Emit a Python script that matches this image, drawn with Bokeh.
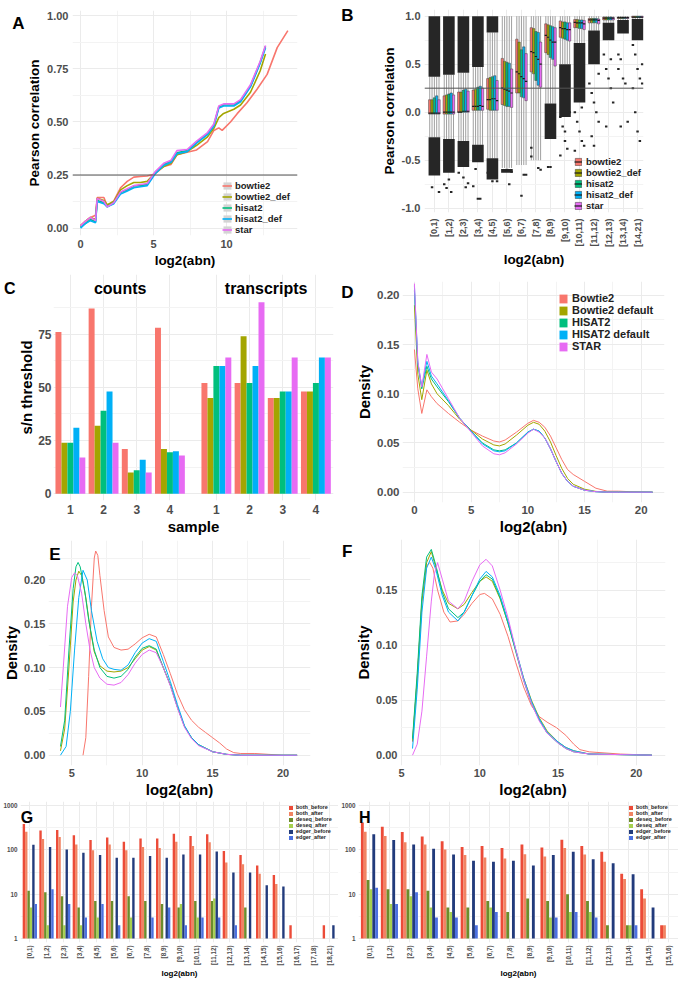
from bokeh.plotting import figure
from bokeh.layouts import column, row
from bokeh.models import (Range1d, FixedTicker, Label, Legend, LegendItem, Span, LinearAxis,
                          NumeralTickFormatter)
from bokeh.embed import file_html
from bokeh.resources import INLINE

FONT = "Liberation Sans"
HUE5 = ["#F8766D", "#A3A500", "#00BF7D", "#00B0F6", "#E76BF3"]

# ---------------- Panel A data ----------------
A_names = ["bowtie2", "bowtie2_def", "hisat2", "hisat2_def", "star"]
A_x_bowtie2 = [0, 0.3, 0.68, 1.03, 1.14, 1.6, 1.83, 2.28, 2.74, 3.2, 3.65, 4.1, 4.57, 5.1, 5.7,
               6.2, 6.6, 7.3, 7.95, 8.7, 9.13, 9.47, 9.7, 10.27, 10.73, 11.4, 12.1, 12.78, 13.47, 14.2]
A_y_bowtie2 = [0.012, 0.03, 0.05, 0.06, 0.144, 0.144, 0.105, 0.128, 0.19, 0.22, 0.24, 0.243, 0.245,
               0.255, 0.29, 0.30, 0.345, 0.357, 0.368, 0.407, 0.46, 0.472, 0.46, 0.5, 0.539, 0.59,
               0.655, 0.724, 0.85, 0.93]
A_x_other = [0, 0.3, 0.68, 1.03, 1.14, 1.6, 1.83, 2.28, 2.74, 3.2, 3.65, 4.1, 4.57, 5.1, 5.7, 6.2,
             6.6, 7.3, 7.95, 8.7, 9.13, 9.47, 9.8, 10.5, 10.96, 11.64, 12.3, 12.67]
A_y_bowtie2_def = [0.01, 0.03, 0.05, 0.04, 0.14, 0.13, 0.11, 0.125, 0.18, 0.20, 0.215, 0.215, 0.22,
                   0.26, 0.29, 0.305, 0.345, 0.36, 0.39, 0.43, 0.47, 0.52, 0.54, 0.56, 0.58, 0.64,
                   0.74, 0.82]
A_y_hisat2 = [0.005, 0.02, 0.04, 0.03, 0.13, 0.12, 0.10, 0.12, 0.167, 0.18, 0.198, 0.2, 0.206, 0.26,
              0.30, 0.315, 0.355, 0.365, 0.405, 0.445, 0.485, 0.57, 0.58, 0.58, 0.60, 0.67, 0.78, 0.856]
A_y_hisat2_def = [0.0, 0.02, 0.035, 0.025, 0.125, 0.115, 0.1, 0.115, 0.16, 0.175, 0.19, 0.195, 0.2,
                  0.255, 0.295, 0.31, 0.35, 0.36, 0.4, 0.44, 0.48, 0.565, 0.575, 0.575, 0.595, 0.665,
                  0.775, 0.85]
A_y_star = [0.01, 0.03, 0.05, 0.035, 0.14, 0.125, 0.1, 0.12, 0.17, 0.185, 0.2, 0.205, 0.21, 0.265,
            0.305, 0.32, 0.365, 0.37, 0.41, 0.45, 0.49, 0.575, 0.585, 0.585, 0.605, 0.675, 0.785, 0.86]
A_threshold = 0.25

# ---------------- Panel B data ----------------
B_cats = ["[0,1)", "[1,2)", "[2,3)", "[3,4)", "[4,5)", "[5,6)", "[6,7)", "[7,8)", "[8,9)",
          "[9,10)", "[10,11)", "[11,12)", "[12,13)", "[13,14)", "[14,21)"]
B_q1 = {
    "bowtie2":     [-0.02, -0.02, 0.00, 0.02, 0.03, 0.08, 0.20, 0.42, 0.62, 0.78, 0.88, 0.93, 0.96, 0.975, 0.985],
    "bowtie2_def": [-0.02, -0.02, 0.00, 0.02, 0.02, 0.07, 0.20, 0.40, 0.60, 0.77, 0.88, 0.93, 0.96, 0.975, 0.985],
    "hisat2":      [-0.02, -0.02, 0.00, 0.02, 0.02, 0.06, 0.16, 0.33, 0.57, 0.76, 0.87, 0.93, 0.96, 0.975, 0.985],
    "hisat2_def":  [-0.02, -0.02, 0.00, 0.02, 0.02, 0.06, 0.15, 0.28, 0.55, 0.75, 0.87, 0.93, 0.96, 0.975, 0.985],
    "star":        [-0.02, -0.02, 0.00, 0.02, 0.02, 0.05, 0.12, 0.26, 0.48, 0.74, 0.86, 0.92, 0.96, 0.975, 0.985],
}
B_med = {
    "bowtie2":     [-0.01, 0.00, 0.00, 0.06, 0.13, 0.25, 0.42, 0.63, 0.80, 0.88, 0.935, 0.96, 0.98, 0.985, 0.99],
    "bowtie2_def": [-0.01, 0.00, 0.00, 0.06, 0.13, 0.24, 0.40, 0.62, 0.78, 0.87, 0.93, 0.96, 0.98, 0.985, 0.99],
    "hisat2":      [-0.01, 0.00, 0.01, 0.06, 0.14, 0.23, 0.37, 0.58, 0.75, 0.87, 0.93, 0.96, 0.98, 0.985, 0.99],
    "hisat2_def":  [-0.01, 0.00, 0.01, 0.07, 0.14, 0.22, 0.35, 0.55, 0.73, 0.86, 0.93, 0.96, 0.98, 0.985, 0.99],
    "star":        [-0.01, 0.00, 0.01, 0.06, 0.12, 0.20, 0.32, 0.50, 0.73, 0.86, 0.92, 0.955, 0.98, 0.985, 0.99],
}
B_q3 = {
    "bowtie2":     [0.13, 0.17, 0.21, 0.23, 0.35, 0.56, 0.76, 0.88, 0.92, 0.95, 0.965, 0.975, 0.99, 0.99, 1.0],
    "bowtie2_def": [0.13, 0.18, 0.21, 0.24, 0.36, 0.53, 0.73, 0.87, 0.91, 0.94, 0.965, 0.975, 0.99, 0.99, 1.0],
    "hisat2":      [0.15, 0.19, 0.23, 0.26, 0.37, 0.52, 0.65, 0.84, 0.90, 0.94, 0.96, 0.975, 0.99, 0.99, 1.0],
    "hisat2_def":  [0.17, 0.20, 0.24, 0.27, 0.38, 0.51, 0.68, 0.83, 0.89, 0.93, 0.96, 0.975, 0.99, 0.99, 1.0],
    "star":        [0.13, 0.18, 0.22, 0.25, 0.33, 0.45, 0.61, 0.73, 0.88, 0.93, 0.955, 0.97, 0.985, 0.99, 1.0],
}
B_whisk_hi = [0.37, 0.39, 0.41, 0.47, 0.83, 1.0, 1.0, 1.0, 1.0, 1.0, 1.0, 1.0, 1.0, 1.0, 1.0]
B_whisk_lo = [-0.26, -0.28, -0.30, -0.34, -0.48, -0.58, -0.55, -0.50, 0.09, 0.50, 0.72, 0.85, 0.93, 0.96, 0.97]
B_band_cat = [0, 1, 2, 3, 4, 0, 1, 2, 3, 4, 5, 8, 9, 10, 11, 12, 13, 14]
B_band_lo = [0.37, 0.39, 0.41, 0.47, 0.83, -0.66, -0.63, -0.57, -0.52, -0.70, -0.63, -0.28, -0.05, 0.10, 0.50, 0.75, 0.82, 0.75]
B_band_hi = [1.00, 1.00, 1.00, 1.00, 1.00, -0.26, -0.28, -0.30, -0.34, -0.48, -0.59, 0.09, 0.50, 0.72, 0.85, 0.93, 0.96, 0.97]
B_out_cat = [0, 0, 1, 1, 1, 1, 2, 2, 2, 2, 3, 3, 3, 3, 4, 4, 4, 5, 5, 5, 6, 6, 6, 7, 7, 7, 7, 8, 8,
             9, 9, 9, 9, 9, 9, 9, 10, 10, 10, 10, 10, 10, 10, 11, 11, 11, 11, 11, 11, 11, 11,
             12, 12, 12, 12, 12, 12, 12, 13, 13, 13, 13, 13, 13, 13, 14, 14, 14, 14, 14, 14, 14, 14, 14, 14]
B_out_ser = [1, 4, 0, 1, 3, 2, 0, 2, 3, 4, 1, 0, 2, 3, 0, 2, 4, 2, 3, 4, 3, 4, 2, 0, 0, 3, 4, 1, 2,
             0, 1, 2, 0, 3, 4, 2, 0, 1, 2, 3, 4, 0, 3, 0, 1, 2, 3, 4, 1, 2, 4,
             0, 1, 2, 3, 4, 1, 3, 0, 1, 2, 3, 1, 4, 0, 0, 1, 2, 3, 4, 0, 1, 2, 3, 4]
B_out_y = [-0.78, -0.83, -0.75, -0.79, -0.83, -0.70, -0.63, -0.68, -0.78, -0.74, -0.59, -0.77, -0.90, -0.90,
           -0.63, -0.72, -0.72, -0.60, -0.75, -0.62, -0.65, -0.65, -0.87, -0.37, -0.46, -0.58, -0.60, -0.57, -0.57,
           -0.05, -0.15, -0.30, -0.45, -0.38, 0.00, -0.20, 0.00, -0.10, -0.20, -0.30, -0.35, -0.40, 0.05,
           0.30, 0.20, 0.10, 0.00, -0.10, -0.25, -0.35, 0.40, 0.60, 0.45, 0.35, 0.25, 0.10, -0.15, 0.55,
           0.60, 0.55, 0.35, 0.30, -0.15, -0.10, 0.45, 0.70, 0.60, 0.45, 0.35, 0.30, 0.25, 0.00, -0.20, -0.30, 0.50]

# ---------------- Panel C data ----------------
C_samples = [1, 2, 3, 4]
C_counts = {
    "Bowtie2": [76, 87, 21, 78], "Bowtie2 default": [24, 32, 10, 21], "HISAT2": [24, 39, 11, 19.5],
    "HISAT2 default": [31, 48, 16, 20], "STAR": [17, 24, 10, 18],
}
C_transcripts = {
    "Bowtie2": [52, 52, 45, 48], "Bowtie2 default": [45, 74, 45, 48], "HISAT2": [60, 52, 48, 52],
    "HISAT2 default": [60, 60, 48, 64], "STAR": [64, 90, 64, 64],
}
D_names = ["Bowtie2", "Bowtie2 default", "HISAT2", "HISAT2 default", "STAR"]

# ---------------- Panel D data ----------------
D_x = [0, 0.3, 0.65, 1.1, 1.5, 2, 3, 4, 5, 6, 7, 7.5, 8, 9, 10, 10.5, 11, 11.5, 12, 12.5, 13, 13.5,
       14, 15, 16, 17, 18, 19, 21]
D_y = {
    "Bowtie2": [0.145, 0.105, 0.08, 0.104, 0.097, 0.09, 0.08, 0.071, 0.063, 0.057, 0.052, 0.051, 0.053,
                0.061, 0.07, 0.073, 0.071, 0.066, 0.057, 0.045, 0.033, 0.023, 0.018, 0.011, 0.004, 0.001,
                0.001, 0.0005, 0.0],
    "Bowtie2 default": [0.19, 0.12, 0.094, 0.124, 0.11, 0.1, 0.088, 0.074, 0.063, 0.054, 0.048, 0.047,
                        0.049, 0.058, 0.068, 0.071, 0.069, 0.062, 0.051, 0.037, 0.024, 0.014, 0.008, 0.003,
                        0.0008, 0.0, 0.0, 0.0, 0.0],
    "HISAT2": [0.205, 0.13, 0.105, 0.128, 0.115, 0.107, 0.092, 0.075, 0.062, 0.05, 0.043, 0.042, 0.043,
               0.05, 0.061, 0.064, 0.062, 0.055, 0.044, 0.031, 0.019, 0.011, 0.006, 0.002, 0.0005, 0.0,
               0.0, 0.0, 0.0],
    "HISAT2 default": [0.21, 0.132, 0.107, 0.133, 0.118, 0.11, 0.093, 0.075, 0.062, 0.049, 0.042, 0.041,
                       0.042, 0.05, 0.061, 0.064, 0.062, 0.055, 0.044, 0.031, 0.019, 0.011, 0.006, 0.002,
                       0.0005, 0.0, 0.0, 0.0, 0.0],
    "STAR": [0.212, 0.133, 0.107, 0.14, 0.122, 0.115, 0.095, 0.075, 0.061, 0.047, 0.039, 0.038, 0.04,
             0.049, 0.06, 0.064, 0.061, 0.055, 0.044, 0.031, 0.019, 0.011, 0.006, 0.002, 0.0005, 0.0,
             0.0, 0.0, 0.0],
}

# ---------------- Panel E data ----------------
E_x = {
    "Bowtie2": [5.8, 6.0, 6.2, 6.4, 6.6, 6.7, 6.85, 7.0, 7.3, 7.6, 8.0, 8.5, 9.0, 9.5, 10.0, 10.5, 11.0,
                11.5, 12.0, 12.5, 13.0, 13.5, 14.0, 14.5, 15.0, 15.5, 16.0, 16.5, 17.0, 18.0, 19.0, 20.0, 21.0],
    "Bowtie2 default": [4.2, 4.5, 4.8, 5.1, 5.3, 5.5, 5.7, 6.0, 6.3, 6.6, 7.0, 7.5, 8.0, 8.5, 9.0, 9.5,
                        10.0, 10.5, 11.0, 11.5, 12.0, 12.5, 13.0, 13.5, 14.0, 15.0, 16.0, 17.0, 21.0],
    "HISAT2": [4.2, 4.5, 4.8, 5.1, 5.3, 5.45, 5.6, 5.9, 6.2, 6.6, 7.0, 7.5, 8.0, 8.5, 9.0, 9.5, 10.0,
               10.5, 11.0, 11.5, 12.0, 12.5, 13.0, 13.5, 14.0, 15.0, 16.0, 17.0, 21.0],
    "HISAT2 default": [4.2, 4.6, 4.9, 5.2, 5.5, 5.8, 6.1, 6.4, 6.8, 7.2, 7.6, 8.0, 8.5, 9.0, 9.5, 10.0,
                       10.5, 11.0, 11.5, 12.0, 12.5, 13.0, 13.5, 14.0, 15.0, 16.0, 17.0, 21.0],
    "STAR": [4.2, 4.4, 4.7, 5.0, 5.2, 5.4, 5.7, 6.0, 6.3, 6.6, 7.0, 7.5, 8.0, 8.5, 9.0, 9.5, 10.0, 10.5,
             11.0, 11.5, 12.0, 12.5, 13.0, 13.5, 14.0, 15.0, 16.0, 17.0, 21.0],
}
E_y = {
    "Bowtie2": [0.0, 0.02, 0.09, 0.17, 0.225, 0.233, 0.228, 0.205, 0.165, 0.135, 0.123, 0.12, 0.121,
                0.127, 0.134, 0.138, 0.135, 0.115, 0.093, 0.07, 0.052, 0.04, 0.032, 0.026, 0.02, 0.014,
                0.007, 0.003, 0.002, 0.002, 0.001, 0.0, 0.0],
    "Bowtie2 default": [0.005, 0.03, 0.1, 0.175, 0.2, 0.21, 0.205, 0.18, 0.145, 0.118, 0.102, 0.096, 0.095,
                        0.096, 0.1, 0.11, 0.12, 0.124, 0.12, 0.1, 0.08, 0.055, 0.033, 0.02, 0.012, 0.004,
                        0.001, 0.0, 0.0],
    "HISAT2": [0.01, 0.04, 0.12, 0.19, 0.215, 0.22, 0.215, 0.19, 0.155, 0.12, 0.1, 0.09, 0.088, 0.09,
               0.098, 0.112, 0.122, 0.125, 0.121, 0.1, 0.08, 0.055, 0.033, 0.02, 0.012, 0.004, 0.001, 0.0, 0.0],
    "HISAT2 default": [0.0, 0.01, 0.05, 0.12, 0.18, 0.211, 0.2, 0.165, 0.13, 0.11, 0.1, 0.098, 0.097,
                       0.103, 0.117, 0.128, 0.133, 0.13, 0.107, 0.084, 0.058, 0.034, 0.02, 0.012, 0.004,
                       0.001, 0.0, 0.0],
    "STAR": [0.055, 0.1, 0.17, 0.203, 0.208, 0.205, 0.185, 0.15, 0.12, 0.1, 0.088, 0.081, 0.08, 0.083,
             0.092, 0.105, 0.115, 0.12, 0.117, 0.1, 0.079, 0.054, 0.032, 0.019, 0.011, 0.004, 0.001, 0.0, 0.0],
}

# ---------------- Panel F data ----------------
F_x = {
    "Bowtie2": [5.7, 6.0, 6.3, 6.6, 6.8, 7.0, 7.3, 7.7, 8.1, 8.6, 9.0, 9.5, 10.0, 10.3, 10.8, 11.3, 11.8,
                12.3, 12.8, 13.3, 13.8, 14.3, 14.9, 15.5, 16.0, 16.4, 17.0, 18.0, 19.0, 21.0],
    "Bowtie2 default": [5.7, 6.0, 6.3, 6.6, 6.9, 7.2, 7.6, 8.0, 8.6, 9.0, 9.5, 10.0, 10.4, 10.8, 11.3,
                        11.8, 12.3, 12.8, 13.3, 13.8, 14.3, 15.0, 15.5, 16.0, 17.0, 21.0],
    "HISAT2": [5.7, 6.0, 6.3, 6.6, 6.9, 7.2, 7.6, 8.0, 8.6, 9.0, 9.5, 10.0, 10.4, 10.8, 11.3, 11.8, 12.3,
               12.8, 13.3, 13.8, 14.3, 15.0, 15.5, 16.0, 17.0, 21.0],
    "HISAT2 default": [5.7, 6.0, 6.3, 6.6, 6.9, 7.2, 7.6, 8.0, 8.6, 9.0, 9.5, 10.0, 10.4, 10.8, 11.3,
                       11.8, 12.3, 12.8, 13.3, 13.8, 14.3, 15.0, 15.5, 16.0, 17.0, 21.0],
    "STAR": [5.7, 6.0, 6.3, 6.6, 6.9, 7.1, 7.3, 7.6, 8.0, 8.6, 9.0, 9.5, 10.0, 10.4, 10.8, 11.3, 11.8,
             12.3, 12.8, 13.3, 13.8, 14.3, 15.0, 15.5, 16.0, 17.0, 21.0],
}
F_y = {
    "Bowtie2": [0.012, 0.07, 0.14, 0.172, 0.175, 0.17, 0.15, 0.13, 0.121, 0.122, 0.128, 0.138, 0.146,
                0.147, 0.142, 0.128, 0.108, 0.084, 0.062, 0.045, 0.035, 0.03, 0.025, 0.018, 0.01, 0.005,
                0.003, 0.002, 0.001, 0.0],
    "Bowtie2 default": [0.013, 0.07, 0.14, 0.175, 0.185, 0.17, 0.15, 0.138, 0.133, 0.137, 0.148, 0.158,
                        0.162, 0.158, 0.142, 0.12, 0.095, 0.07, 0.05, 0.034, 0.022, 0.012, 0.007, 0.004,
                        0.001, 0.0],
    "HISAT2": [0.015, 0.075, 0.145, 0.18, 0.187, 0.172, 0.148, 0.133, 0.125, 0.13, 0.145, 0.158, 0.164,
               0.16, 0.143, 0.12, 0.094, 0.068, 0.047, 0.032, 0.02, 0.011, 0.006, 0.003, 0.001, 0.0],
    "HISAT2 default": [0.006, 0.06, 0.13, 0.17, 0.18, 0.168, 0.145, 0.13, 0.122, 0.13, 0.145, 0.16,
                       0.167, 0.162, 0.145, 0.122, 0.096, 0.07, 0.049, 0.033, 0.021, 0.012, 0.007, 0.004,
                       0.001, 0.0],
    "STAR": [0.0, 0.01, 0.04, 0.09, 0.14, 0.165, 0.175, 0.16, 0.14, 0.133, 0.14, 0.158, 0.173, 0.178,
             0.172, 0.15, 0.125, 0.096, 0.068, 0.047, 0.031, 0.02, 0.011, 0.006, 0.003, 0.001, 0.0],
}

# ---------------- Panel G / H data ----------------
GH_names = ["both_before", "both_after", "deseq_before", "deseq_after", "edger_before", "edger_after"]
GH_colors = ["#EC4B38", "#F18463", "#6C8C2B", "#A6D04E", "#223B7C", "#4B70E0"]
G_cats = ["[0,1)", "[1,2)", "[2,3)", "[3,4)", "[4,5)", "[5,6)", "[6,7)", "[7,8)", "[8,9)", "[9,10)",
          "[10,11)", "[11,12)", "[12,13)", "[13,14)", "[14,15)", "[15,16)", "[16,17)", "[17,18)", "[18,21)"]
G_vals = {
    "both_before":  [380, 273, 280, 213, 166, 189, 152, 180, 180, 231, 205, 224, 94, 76, 44, 27, 2, 0, 2],
    "both_after":   [255, 174, 195, 131, 97, 131, 97, 115, 110, 152, 121, 147, 52, 47, 29, 17, 0, 0, 0],
    "deseq_before": [12, 11, 9, 5, 7, 7, 9, 7, 6, 5, 7, 7, 0, 5, 0, 0, 0, 0, 0],
    "deseq_after":  [5, 2, 2, 2, 3, 0, 3, 0, 0, 6, 3, 8, 0, 0, 0, 0, 0, 0, 0],
    "edger_before": [129, 115, 102, 86, 76, 66, 66, 72, 66, 78, 78, 92, 31, 31, 16, 15, 0, 0, 2],
    "edger_after":  [6, 13, 6, 3, 6, 2, 0, 3, 5, 2, 3, 3, 2, 0, 0, 0, 0, 0, 0],
}
H_cats = ["[0,1)", "[1,2)", "[2,3)", "[3,4)", "[4,5)", "[5,6)", "[6,7)", "[7,8)", "[8,9)", "[9,10)",
          "[10,11)", "[11,12)", "[12,13)", "[13,14)", "[14,15)", "[15,16)"]
H_vals = {
    "both_before":  [413, 328, 250, 199, 155, 115, 121, 110, 131, 113, 168, 121, 90, 29, 13, 2],
    "both_after":   [255, 205, 147, 131, 102, 76, 67, 64, 79, 71, 110, 78, 54, 22, 8, 2],
    "deseq_before": [21, 13, 13, 12, 5, 5, 7, 4, 8, 7, 10, 7, 2, 2, 0, 0],
    "deseq_after":  [13, 6, 9, 5, 4, 0, 5, 0, 0, 3, 4, 4, 0, 2, 0, 0],
    "edger_before": [224, 166, 131, 106, 78, 57, 54, 57, 44, 76, 90, 61, 50, 28, 5, 0],
    "edger_after":  [14, 6, 11, 3, 3, 2, 4, 0, 0, 3, 4, 3, 0, 2, 0, 0],
}


# ---------------- helpers ----------------
def mkfig(w, h, xr, yr, bl, br, bt, bb, **kw):
    p = figure(width=w, height=h, x_range=Range1d(*xr), y_range=Range1d(*yr),
               min_border_left=bl, min_border_right=br, min_border_top=bt, min_border_bottom=bb,
               output_backend="svg", toolbar_location=None, **kw)
    p.outline_line_color = None
    p.border_fill_color = "white"
    p.background_fill_color = "white"
    if "frame_align" in p.properties():
        p.frame_align = False
    return p


def no_ticks(ax):
    ax.axis_line_color = None
    ax.major_tick_line_color = None
    ax.minor_tick_line_color = None
    ax.major_tick_out = 0
    ax.major_tick_in = 0
    ax.minor_tick_out = 0
    ax.minor_tick_in = 0


def style(p, tick_fs="11px", lab_fs="15px", tstand=3, lstand=2):
    for ax in list(p.xaxis) + list(p.yaxis):
        no_ticks(ax)
        ax.major_label_text_font = FONT
        ax.major_label_text_font_style = "bold"
        ax.major_label_text_color = "#4D4D4D"
        ax.major_label_text_font_size = tick_fs
        ax.major_label_standoff = tstand
        ax.axis_label_text_font = FONT
        ax.axis_label_text_font_style = "bold"
        ax.axis_label_text_font_size = lab_fs
        ax.axis_label_text_color = "black"
        ax.axis_label_standoff = lstand
    for g in list(p.xgrid) + list(p.ygrid):
        g.grid_line_color = "#EBEBEB"
        g.minor_grid_line_color = "#F3F3F3"


def set_ticks(p, axis, major, minor=()):
    t = FixedTicker(ticks=list(major), minor_ticks=list(minor))
    axes = p.xaxis if axis == "x" else p.yaxis
    grids = p.xgrid if axis == "x" else p.ygrid
    for a in axes:
        a.ticker = t
    for g in grids:
        g.ticker = t


def letter_axis(p, txt, y, standoff, size="17px"):
    """panel tag drawn as the single tick label of an extra, line-less left axis"""
    ax = LinearAxis(ticker=FixedTicker(ticks=[y]), major_label_overrides={y: txt},
                    major_label_text_font=FONT, major_label_text_font_style="bold",
                    major_label_text_font_size=size, major_label_text_color="black",
                    major_label_standoff=standoff)
    no_ticks(ax)
    p.add_layout(ax, "left")


def letter_in(p, txt, x, y, size="17px"):
    p.add_layout(Label(x=x, y=y, text=txt, text_font=FONT, text_font_style="bold",
                       text_font_size=size, text_color="black", text_baseline="alphabetic"))


def legend(p, items, loc, fs, gw, gh, standoff=4, lh=None):
    lg = Legend(items=items, location=loc, orientation="vertical", padding=0, margin=0, spacing=0,
                glyph_width=gw, glyph_height=gh, label_height=lh or gh, label_standoff=standoff,
                label_text_font=FONT, label_text_font_style="bold", label_text_font_size=fs,
                label_text_color="#222222", label_text_line_height=0.9,
                inactive_fill_alpha=0, background_fill_alpha=0, border_line_color=None)
    p.add_layout(lg)


# ---------------- Panel A ----------------
pA = mkfig(338, 270, (-0.55, 14.86), (-0.035, 1.025), 72, 41, 10, 32)
style(pA, "11px", "13.5px", 4, 2)
set_ticks(pA, "x", [0, 5, 10], [2.5, 7.5, 12.5])
set_ticks(pA, "y", [0, 0.25, 0.5, 0.75, 1.0], [0.125, 0.375, 0.625, 0.875])
pA.yaxis.formatter = NumeralTickFormatter(format="0.00")
pA.xaxis.axis_label = "log2(abn)"
pA.yaxis.axis_label = "Pearson correlation"
pA.add_layout(Span(location=A_threshold, dimension="width", line_color="#555555", line_width=1))
A_data = [(A_x_bowtie2, A_y_bowtie2), (A_x_other, A_y_bowtie2_def), (A_x_other, A_y_hisat2),
          (A_x_other, A_y_hisat2_def), (A_x_other, A_y_star)]
itemsA = []
for i, (xs, ys) in enumerate(A_data):
    kbg = pA.rect(x=xs, y=ys, width=0, height=0, fill_color="#D4D4D4", line_color=None, visible=False)
    r = pA.line(xs, ys, line_color=HUE5[i], line_width=1.6)
    itemsA.append(LegendItem(label=A_names[i], renderers=[kbg, r]))
legend(pA, itemsA, (150, 0), "9.5px", 10, 9, 3)
letter_axis(pA, "A", 0.962, 0)

# ---------------- Panel B ----------------
pB = mkfig(340, 270, (-0.68, 14.41), (-1.044, 1.069), 82, 35, 9, 55)
style(pB, "11px", "13.5px", 4, 2)
set_ticks(pB, "x", list(range(len(B_cats))))
set_ticks(pB, "y", [-1, -0.5, 0, 0.5, 1], [-0.75, -0.25, 0.25, 0.75])
pB.yaxis.formatter = NumeralTickFormatter(format="0.0")
pB.xaxis.major_label_overrides = {i: c for i, c in enumerate(B_cats)}
pB.xaxis.major_label_orientation = 1.5708
pB.xaxis.major_label_text_font_size = "9px"
pB.xaxis.major_label_standoff = 6
pB.xaxis.axis_label = "log2(abn)"
pB.yaxis.axis_label = "Pearson correlation"
dodge = 0.16
for s, nm in enumerate(A_names):
    xs = [c + (s - 2) * dodge for c in range(len(B_cats))]
    pB.segment(x0=xs, y0=B_whisk_lo, x1=xs, y1=B_q1[nm], line_color="#A0A0A0", line_width=1)
    pB.segment(x0=xs, y0=B_q3[nm], x1=xs, y1=B_whisk_hi, line_color="#A0A0A0", line_width=1)
pB.quad(left=[c - 0.4 for c in B_band_cat], right=[c + 0.4 for c in B_band_cat],
        bottom=B_band_lo, top=B_band_hi, fill_color="#262626", line_color=None)
itemsB = []
for s, nm in enumerate(A_names):
    xs = [c + (s - 2) * dodge for c in range(len(B_cats))]
    rb = pB.vbar(x=xs, bottom=B_q1[nm], top=B_q3[nm], width=dodge, fill_color=HUE5[s],
                 line_color="#3A3A3A", line_width=0.5)
    rm = pB.segment(x0=[x - dodge / 2 for x in xs], x1=[x + dodge / 2 for x in xs], y0=B_med[nm],
                    y1=B_med[nm], line_color="#1A1A1A", line_width=1.2)
    itemsB.append(LegendItem(label=nm, renderers=[rb, rm]))
pB.rect(x=[c + (s - 2) * dodge for c, s in zip(B_out_cat, B_out_ser)], y=B_out_y, width=0.17,
        height=2, height_units="screen", fill_color="#262626", line_color=None)
pB.add_layout(Span(location=A_threshold, dimension="width", line_color="#555555", line_width=1))
legend(pB, itemsB, (150, 1), "9.5px", 8, 9, 4)
letter_axis(pB, "B", 1.005, 25)

# ---------------- Panel C ----------------
pC = mkfig(338, 267, (4.91, 89.3), (-3.15, 103.0), 46, 5, 4, 37)
style(pC, "12px", "15px", 2, 0)
pos_counts = [10 * s for s in C_samples]
pos_trans = [10 * s + 44 for s in C_samples]
set_ticks(pC, "x", pos_counts + pos_trans)
set_ticks(pC, "y", [0, 25, 50, 75], [12.5, 37.5, 62.5, 87.5])
pC.xaxis.major_label_overrides = {p: str(s) for p, s in zip(pos_counts + pos_trans, C_samples + C_samples)}
pC.xaxis.major_label_standoff = 4
pC.xaxis.axis_label_standoff = 1
pC.xaxis.axis_label = "sample"
pC.yaxis.axis_label = "s/n threshold"
bw = 1.8
for s, nm in enumerate(D_names):
    pC.vbar(x=[p + (s - 2) * bw for p in pos_counts], top=C_counts[nm], width=bw,
            fill_color=HUE5[s], line_color=None)
    pC.vbar(x=[p + (s - 2) * bw for p in pos_trans], top=C_transcripts[nm], width=bw,
            fill_color=HUE5[s], line_color=None)
for txt, xc in (("counts", 25), ("transcripts", 69)):
    pC.add_layout(Label(x=xc, y=96.2, text=txt, text_font=FONT, text_font_style="bold",
                        text_font_size="16px", text_align="center", text_baseline="alphabetic",
                        text_color="black"))
letter_axis(pC, "C", 96.4, 0, "16px")

# ---------------- Panel D ----------------
pD = mkfig(340, 267, (-1.05, 22.05), (-0.0105, 0.2141), 61, 14, 11, 34)
style(pD, "11.5px", "15px", 3, 1)
set_ticks(pD, "x", [0, 5, 10, 15, 20], [2.5, 7.5, 12.5, 17.5])
set_ticks(pD, "y", [0, 0.05, 0.10, 0.15, 0.20], [0.025, 0.075, 0.125, 0.175])
pD.yaxis.formatter = NumeralTickFormatter(format="0.00")
pD.xaxis.axis_label = "log2(abn)"
pD.yaxis.axis_label = "Density"
itemsD = []
for s, nm in enumerate(D_names):
    pD.line(D_x, D_y[nm], line_color=HUE5[s], line_width=1)
    rk = pD.rect(x=D_x, y=D_y[nm], width=0, height=0, fill_color=HUE5[s], line_color=None, visible=False)
    itemsD.append(LegendItem(label=nm, renderers=[rk]))
legend(pD, itemsD, (156, 150), "11px", 10, 11, 4)
letter_axis(pD, "D", 0.203, 0)

# ---------------- Panel E ----------------
pE = mkfig(338, 263, (3.35, 21.95), (-0.0117, 0.245), 44, 28, 3, 30)
style(pE, "11px", "15px", 3, 1)
set_ticks(pE, "x", [5, 10, 15, 20], [7.5, 12.5, 17.5])
set_ticks(pE, "y", [0, 0.05, 0.10, 0.15, 0.20], [0.025, 0.075, 0.125, 0.175, 0.225])
pE.yaxis.formatter = NumeralTickFormatter(format="0.00")
pE.xaxis.axis_label = "log2(abn)"
pE.yaxis.axis_label = "Density"
for s, nm in enumerate(D_names):
    pE.line(E_x[nm], E_y[nm], line_color=HUE5[s], line_width=1)
letter_in(pE, "E", 3.4, 0.229)

# ---------------- Panel F ----------------
pF = mkfig(340, 263, (4.93, 21.87), (-0.0094, 0.196), 62, 13, 2, 30)
style(pF, "11px", "15px", 3, 1)
set_ticks(pF, "x", [5, 10, 15, 20], [7.5, 12.5, 17.5])
set_ticks(pF, "y", [0, 0.05, 0.10, 0.15], [0.025, 0.075, 0.125, 0.175])
pF.yaxis.formatter = NumeralTickFormatter(format="0.00")
pF.xaxis.axis_label = "log2(abn)"
pF.yaxis.axis_label = "Density"
for s, nm in enumerate(D_names):
    pF.line(F_x[nm], F_y[nm], line_color=HUE5[s], line_width=1)
letter_axis(pF, "F", 0.185, 0)


# ---------------- Panels G / H ----------------
def bars_panel(cats, vals, w, xr, let, leg_x):
    p = mkfig(w, 181, xr, (0.818, 1222), 20, 0, 1, 34, y_axis_type="log")
    style(p, "6.3px", "8px", 3, 1)
    set_ticks(p, "x", list(range(len(cats))))
    set_ticks(p, "y", [1, 10, 100, 1000], [3.16, 31.6, 316])
    p.yaxis.major_label_overrides = {1: "1", 10: "10", 100: "100", 1000: "1000"}
    p.xaxis.major_label_overrides = {i: c for i, c in enumerate(cats)}
    p.xaxis.major_label_orientation = 1.5708
    p.xaxis.axis_label = "log2(abn)"
    bwid = 0.143
    items = []
    for s, nm in enumerate(GH_names):
        xs = [i + (s - 2.5) * bwid for i, v in enumerate(vals[nm]) if v > 0]
        tops = [v for v in vals[nm] if v > 0]
        r = p.vbar(x=xs, bottom=1, top=tops, width=bwid, fill_color=GH_colors[s], line_color=None)
        items.append(LegendItem(label=nm, renderers=[r]))
    legend(p, items, (leg_x, 102), "5.5px", 5, 5, 3, 6)
    letter_in(p, let, xr[0] + 0.02, 540, "16px")
    return p


pG = bars_panel(G_cats, G_vals, 338, (-0.56, 18.52), "G", 268)
pH = bars_panel(H_cats, H_vals, 340, (-0.55, 15.49), "H", 270)

layout = column(row(pA, pB, spacing=0), row(pC, pD, spacing=0), row(pE, pF, spacing=0),
                row(pG, pH, spacing=0), spacing=0)
open("out.html", "w").write(file_html(layout, INLINE))
